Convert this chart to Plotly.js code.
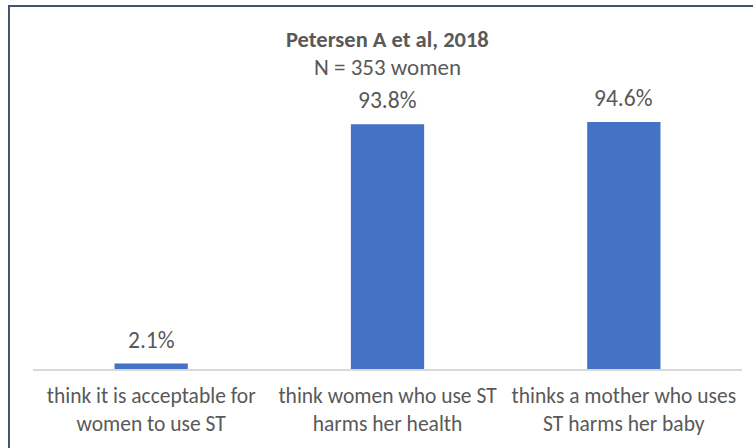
<!DOCTYPE html>
<html>
<head>
<meta charset="utf-8">
<script src="https://cdn.plot.ly/plotly-3.0.1.min.js"></script>
<style>
  html, body { margin: 0; padding: 0; background: #fff; }
  #wrap { position: relative; width: 753px; height: 448px; overflow: hidden; }
  #frame { position: absolute; left: 8px; top: 5px; width: 800px; height: 500px;
           border-left: 2px solid #44546A; border-top: 2px solid #44546A; box-sizing: border-box; pointer-events: none; z-index: 2; }
  #chart { position: absolute; left: 0; top: 0; width: 753px; height: 448px; }
</style>
</head>
<body>
<div id="wrap">
  <div id="chart"></div>
  <div id="frame"></div>
</div>
<script>
const categories = [
  "think it is acceptable for<br>women to use ST",
  "think women who use ST<br>harms her health",
  "thinks a mother who uses<br>ST harms her baby"
];
const values = [2.1, 93.8, 94.6];
const valueLabels = ["2.1%", "93.8%", "94.6%"];
const chartTitle = "Petersen A et al, 2018";
const chartSubtitle = "N = 353 women";

const FONT = "Carlito, Lato, 'Open Sans', sans-serif";
const TXT = "#595959";

const trace = {
  type: "bar",
  x: categories,
  y: values,
  marker: { color: "#4472C4" },
  hoverinfo: "skip"
};

const labelAnns = categories.map((c, i) => ({
  x: c, y: values[i], xref: "x", yref: "y",
  text: valueLabels[i], showarrow: false,
  yanchor: "bottom", yshift: 8,
  font: { family: FONT, size: 23.5, color: TXT }
}));

const layout = {
  width: 753, height: 448,
  margin: { l: 33, r: 11, t: 108, b: 79, pad: 0 },
  paper_bgcolor: "#ffffff",
  plot_bgcolor: "#ffffff",
  showlegend: false,
  bargap: 0.69,
  xaxis: {
    type: "category",
    showline: true, linecolor: "#D9D9D9", linewidth: 2,
    showgrid: false, zeroline: false,
    ticks: "outside", ticklen: 6, tickcolor: "rgba(0,0,0,0)",
    tickfont: { family: FONT, size: 21.5, color: TXT },
    fixedrange: true
  },
  yaxis: {
    range: [0, 100],
    visible: false,
    showgrid: false, zeroline: false,
    fixedrange: true
  },
  annotations: labelAnns.concat([
    { xref: "paper", yref: "paper", x: 0.5, y: 1.264, yanchor: "middle", showarrow: false,
      text: "<b>" + chartTitle + "</b>", font: { family: FONT, size: 22.5, color: TXT } },
    { xref: "paper", yref: "paper", x: 0.5, y: 1.157, yanchor: "middle", showarrow: false,
      text: chartSubtitle, font: { family: FONT, size: 23, color: TXT } }
  ])
};

Plotly.newPlot("chart", [trace], layout, { displayModeBar: false, staticPlot: true });
</script>
</body>
</html>
